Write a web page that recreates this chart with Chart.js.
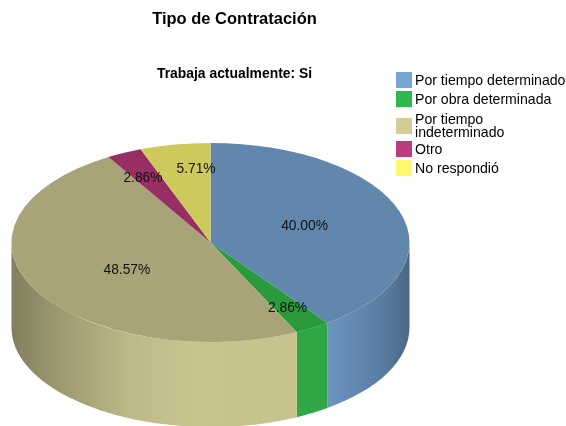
<!DOCTYPE html>
<html lang="es">
<head>
<meta charset="utf-8">
<title>Tipo de Contratación</title>
<script src="https://cdn.jsdelivr.net/npm/chart.js@4"></script>
<style>
  html,body{margin:0;padding:0;background:#fff;}
  #wrap{position:relative;width:566px;height:426px;overflow:hidden;}
  #legend{position:absolute;left:396px;top:72px;font:14.1px/13px "Liberation Sans",Arial,sans-serif;color:#000;}
  .row{position:absolute;left:0;display:flex;align-items:center;white-space:nowrap;}
  .sw{width:16px;height:16px;margin-right:3px;flex:none;}
</style>
</head>
<body>
<div id="wrap">
  <canvas id="c" width="566" height="426"></canvas>
  <div id="legend"></div>
</div>
<script>
const categories = ["Por tiempo determinado", "Por obra determinada", "Por tiempo indeterminado", "Otro", "No respondió"];
const legendLines = [["Por tiempo determinado"], ["Por obra determinada"], ["Por tiempo", "indeterminado"], ["Otro"], ["No respondió"]];
const percentages = [40.00, 2.86, 48.57, 2.86, 5.71];
const topColors = ["#6188AC", "#2A9A3C", "#A9A478", "#982F64", "#CDC95A"];
const swatchColors = ["#76A6D6", "#2DB84D", "#D2CC96", "#BC3D7F", "#FFFA6D"];
const sideRGB = [[116,160,207],[50,178,72],[211,205,150],[188,61,127],[255,250,109]];
const labelFractionX = [0.497, 0.755, 0.477, 0.782, 0.407];
const labelFractionY = [0.57, 0.755, 0.572, 0.731, 0.761];

const view = {cx: 210.5, cy: 242.5, squash: 0.5, depth: 85};

function shade(rgb, f){ return "rgb(" + rgb.map(v => Math.round(v * f)).join(",") + ")"; }

const pie3d = {
  id: "pie3d",
  beforeDatasetsDraw(chart) {
    const ctx = chart.ctx;
    const arcs = chart.getDatasetMeta(0).data;
    const r = arcs[0].outerRadius, ry = r * view.squash;
    arcs.forEach((el, i) => {
      let a0 = el.startAngle, a1 = el.endAngle;
      if (a0 < 0 && a1 < 0) return;
      a0 = Math.max(a0, 0);
      a1 = Math.min(a1, Math.PI);
      if (a1 <= a0) return;
      const g = ctx.createLinearGradient(view.cx - r, 0, view.cx + r, 0);
      [[0,.62],[.08,.7],[.18,.8],[.3,.9],[.45,.95],[.78,.94],[.88,.84],[.95,.75],[1,.64]]
        .forEach(s => g.addColorStop(s[0], shade(sideRGB[i], s[1])));
      ctx.save();
      ctx.beginPath();
      ctx.ellipse(view.cx, view.cy, r, ry, 0, a0, a1);
      ctx.ellipse(view.cx, view.cy + view.depth, r, ry, 0, a1, a0, true);
      ctx.closePath();
      ctx.fillStyle = g;
      ctx.fill();
      ctx.restore();
    });
    const el0 = arcs[0];
    ctx.save();
    ctx.translate(view.cx, view.cy);
    ctx.scale(1, view.squash);
    ctx.translate(-el0.x, -el0.y);
  },
  afterDatasetsDraw(chart) {
    const ctx = chart.ctx;
    ctx.restore();
    const arcs = chart.getDatasetMeta(0).data;
    ctx.save();
    ctx.font = '13.8px "Liberation Sans", Arial, sans-serif';
    ctx.fillStyle = "#111";
    ctx.textAlign = "center";
    ctx.textBaseline = "middle";
    arcs.forEach((el, i) => {
      const mid = (el.startAngle + el.endAngle) / 2;
      const x = view.cx + el.outerRadius * labelFractionX[i] * Math.cos(mid);
      const y = view.cy + el.outerRadius * labelFractionY[i] * view.squash * Math.sin(mid) + 1;
      ctx.fillText(percentages[i].toFixed(2) + "%", x, y);
    });
    ctx.restore();
  }
};

new Chart(document.getElementById("c"), {
  type: "pie",
  data: {
    labels: categories,
    datasets: [{ data: percentages, backgroundColor: topColors, borderWidth: 0 }]
  },
  options: {
    responsive: false,
    animation: false,
    radius: 199,
    layout: { padding: { left: 0, right: 97, top: 0, bottom: 0 } },
    plugins: {
      legend: { display: false },
      tooltip: { enabled: false },
      title: {
        display: true,
        text: "Tipo de Contratación",
        color: "#000",
        font: { family: '"Liberation Sans", Arial, sans-serif', size: 16.5, weight: "bold" },
        padding: { top: 10, bottom: 36 }
      },
      subtitle: {
        display: true,
        text: "Trabaja actualmente: Si",
        color: "#000",
        font: { family: '"Liberation Sans", Arial, sans-serif', size: 13.9, weight: "bold" },
        padding: { top: 0, bottom: 0 }
      }
    }
  },
  plugins: [pie3d]
});

const rowTops = [0, 19, 38, 69, 88];
const rowHeights = [16, 16, 31, 16, 16];
const legend = document.getElementById("legend");
legendLines.forEach((lines, i) => {
  const row = document.createElement("div");
  row.className = "row";
  row.style.top = rowTops[i] + "px";
  row.style.height = rowHeights[i] + "px";
  const sw = document.createElement("div");
  sw.className = "sw";
  sw.style.background = swatchColors[i];
  const tx = document.createElement("div");
  tx.innerHTML = lines.join("<br>");
  row.append(sw, tx);
  legend.append(row);
});
</script>
</body>
</html>
